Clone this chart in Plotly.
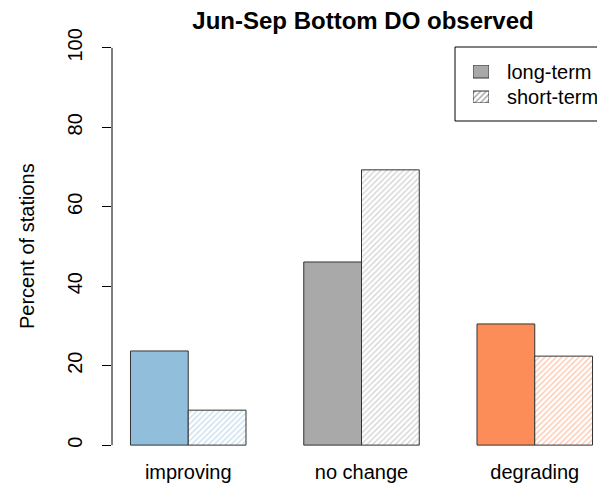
import plotly.graph_objects as go

categories = ["improving", "no change", "degrading"]
long_term = [23.7, 46.1, 30.5]
short_term = [8.8, 69.3, 22.4]
colors = ["#91BFDB", "#A9A9A9", "#FC8D59"]
y_ticks = [0, 20, 40, 60, 80, 100]
legend_labels = ["long-term", "short-term"]
legend_color = "#A9A9A9"

FONT = "Liberation Sans, Arial, sans-serif"
W, H = 605, 488
L, R, T, B = 104, 2, 24, 35
PW, PH = W - L - R, H - T - B


def px(x):
    return (x - L) / PW


def py(y):
    return (H - B - y) / PH


# R barplot(beside=TRUE): each group = 2 bars of width 1, space 1 between groups
centers = [1 + 3 * i + 1 for i in range(len(categories))]
x_long = [c - 0.5 for c in centers]
x_short = [c + 0.5 for c in centers]

OUTLINE = dict(color="#333333", width=1)
PATTERN = dict(shape="/", bgcolor="white", size=4, solidity=0.35)

fig = go.Figure()
fig.add_trace(go.Bar(
    x=x_long, y=long_term, width=1, showlegend=False, hoverinfo="skip",
    marker=dict(color=colors, line=OUTLINE),
))
fig.add_trace(go.Bar(
    x=x_short, y=short_term, width=1, showlegend=False, hoverinfo="skip",
    marker=dict(color="white", line=OUTLINE,
                pattern=dict(PATTERN, fgcolor=colors)),
))

# legend swatches on a hidden mini axis (pixel-like units)
fig.add_trace(go.Bar(
    x=[0.5, 0.5], y=[13, 12], base=[25, 0], width=1, showlegend=False,
    hoverinfo="skip", xaxis="x2", yaxis="y2",
    marker=dict(color=[legend_color, "white"], line=OUTLINE,
                pattern=dict(PATTERN, shape=["", "/"], fgcolor=legend_color)),
))

annotations = [
    dict(text="Percent of stations", xref="paper", yref="paper",
         x=px(19), y=py(238), xanchor="center", yanchor="middle",
         textangle=-90, showarrow=False, font=dict(size=20)),
]
for i, lab in enumerate(legend_labels):
    annotations.append(dict(text=lab, xref="paper", yref="paper",
                            x=px(497), y=py(64 + 25 * i), xanchor="left",
                            yanchor="middle", showarrow=False,
                            font=dict(size=20)))

fig.update_layout(
    width=W, height=H,
    margin=dict(l=L, r=R, t=T, b=B),
    plot_bgcolor="white", paper_bgcolor="white",
    barmode="overlay",
    font=dict(family=FONT, size=20, color="black"),
    title=dict(text="<b>Jun-Sep Bottom DO observed</b>", x=355 / W,
               xanchor="center", y=1 - 13 / H, yanchor="middle",
               font=dict(size=24, family=FONT)),
    xaxis=dict(range=[0.68, 9.32], tickvals=centers, ticktext=categories,
               showline=False, showgrid=False, zeroline=False, ticks="",
               tickfont=dict(size=20), automargin=False, ticklabelstandoff=-3),
    yaxis=dict(range=[-4, 104], tickvals=y_ticks, tickangle=-90,
               showline=False, showgrid=False, zeroline=False,
               ticks="outside", ticklen=9, tickcolor="black",
               tickfont=dict(size=20), automargin=False, ticklabelstandoff=12),
    xaxis2=dict(domain=[px(465), px(481)], range=[0, 1], visible=False,
                anchor="y2", fixedrange=True),
    yaxis2=dict(domain=[py(95), py(57)], range=[0, 38], visible=False,
                anchor="x2", fixedrange=True),
    annotations=annotations,
    shapes=[
        dict(type="line", xref="paper", yref="y", x0=0, x1=0, y0=0, y1=100,
             line=dict(color="black", width=1)),
        dict(type="rect", xref="paper", yref="paper", x0=px(447), x1=px(603),
             y0=py(113), y1=py(39), line=dict(color="black", width=1),
             fillcolor="rgba(0,0,0,0)"),
    ],
)

fig.write_html("out.html")
